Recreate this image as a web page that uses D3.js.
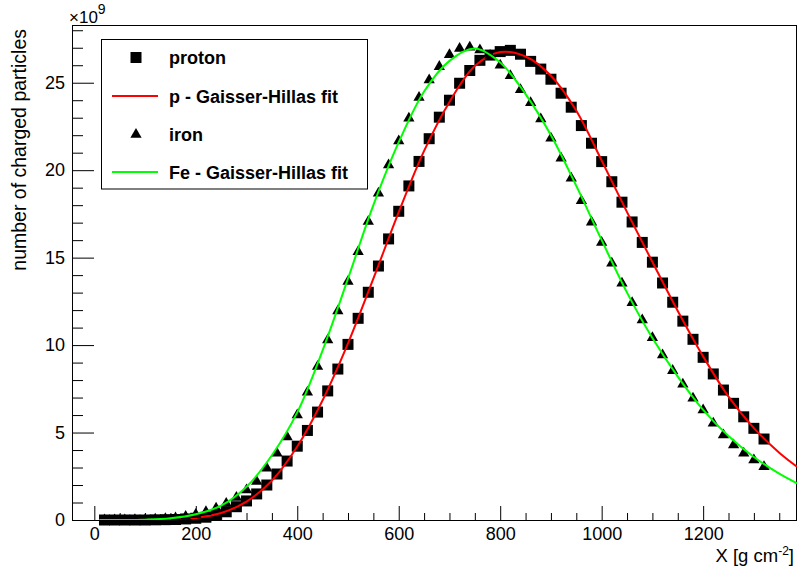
<!DOCTYPE html>
<html>
<head>
<meta charset="utf-8">
<script src="https://d3js.org/d3.v7.min.js"></script>
<style>
  body { margin: 0; background: #fff; }
  svg { display: block; font-family: "Liberation Sans", Arial, Helvetica, sans-serif; }
</style>
</head>
<body>
<div id="chart"></div>
<script>
// slant depth of the sampled points [g cm^-2]
const depth = [20, 40, 60, 80, 100, 120, 140, 160, 180, 200,
  220, 240, 260, 280, 300, 320, 340, 360, 380, 400,
  420, 440, 460, 480, 500, 520, 540, 560, 580, 600,
  620, 640, 660, 680, 700, 720, 740, 760, 780, 800,
  820, 840, 860, 880, 900, 920, 940, 960, 980, 1000,
  1020, 1040, 1060, 1080, 1100, 1120, 1140, 1160, 1180, 1200,
  1220, 1240, 1260, 1280, 1300, 1320];

// number of charged particles, in units of 1e9
const protonN = [0, 0, 0, 0, 0, 0.01, 0.02, 0.03, 0.06, 0.1,
  0.16, 0.29, 0.47, 0.76, 1.09, 1.49, 2.0, 2.63, 3.37, 4.22,
  5.12, 6.17, 7.38, 8.63, 10.04, 11.53, 13.02, 14.52, 16.07, 17.65,
  19.1, 20.5, 21.8, 23.03, 24.0, 24.97, 25.7, 26.28, 26.58, 26.78,
  26.85, 26.63, 26.22, 25.78, 25.2, 24.4, 23.6, 22.55, 21.54, 20.49,
  19.34, 18.17, 17.04, 15.87, 14.74, 13.55, 12.45, 11.37, 10.33, 9.3,
  8.35, 7.43, 6.67, 5.9, 5.24, 4.63];

const ironN = [0, 0, 0, 0.01, 0.02, 0.04, 0.07, 0.12, 0.2, 0.32,
  0.47, 0.67, 0.95, 1.28, 1.72, 2.2, 2.96, 3.81, 4.75, 6.0,
  7.3, 8.77, 10.29, 11.95, 13.63, 15.34, 17.06, 18.68, 20.3, 21.67,
  22.97, 24.15, 25.16, 25.92, 26.6, 26.95, 27.03, 26.87, 26.55, 26.0,
  25.4, 24.6, 23.85, 22.92, 21.82, 20.68, 19.54, 18.25, 17.03, 15.86,
  14.68, 13.53, 12.42, 11.43, 10.42, 9.43, 8.54, 7.76, 6.96, 6.29,
  5.53, 4.86, 4.29, 3.81, 3.43, 3.05];

// Gaisser-Hillas fit curves
const fitDepth = [10, 50, 100, 150, 200, 250, 300, 350, 400, 450,
  500, 550, 600, 650, 700, 750, 800, 850, 900, 950,
  1000, 1050, 1100, 1150, 1200, 1250, 1300, 1350, 1385];
const fitProton = [0, 0, 0.01, 0.03, 0.12, 0.4, 1.05, 2.25, 4.2, 6.85,
  10.1, 13.8, 17.6, 21.1, 23.9, 25.95, 26.75, 26.5, 25.4, 23.4,
  20.55, 17.6, 14.75, 11.95, 9.35, 7.05, 5.25, 3.85, 3.05];
const fitIron = [0, 0, 0.02, 0.1, 0.33, 0.82, 1.9, 3.7, 6.15, 9.7,
  13.8, 18.0, 21.6, 24.5, 26.25, 26.95, 26.15, 24.35, 22.0, 19.1,
  16.0, 13.0, 10.4, 8.2, 6.3, 4.8, 3.6, 2.65, 2.1];

const xMajor = [0, 200, 400, 600, 800, 1000, 1200];
const xMinor = [50, 100, 150, 250, 300, 350, 450, 500, 550, 650, 700, 750,
  850, 900, 950, 1050, 1100, 1150, 1250, 1300, 1350];
const yMajor = [0, 5, 10, 15, 20, 25];
const yMinor = [1, 2, 3, 4, 6, 7, 8, 9, 11, 12, 13, 14, 16, 17, 18, 19,
  21, 22, 23, 24, 26, 27, 28];

const legendItems = [
  { label: 'proton', kind: 'square' },
  { label: 'p - Gaisser-Hillas fit', kind: 'line', color: '#ff0000' },
  { label: 'iron', kind: 'triangle' },
  { label: 'Fe - Gaisser-Hillas fit', kind: 'line', color: '#00ff00' },
];

const W = 798, H = 570;
const frame = { left: 72, right: 797, top: 25, bottom: 520 };

const svg = d3.select('#chart').append('svg').attr('width', W).attr('height', H);

const x = d3.scaleLinear().domain([-44, 1385]).range([frame.left, frame.right]);
const y = d3.scaleLinear().domain([0, 28.3]).range([frame.bottom, frame.top]);

svg.append('defs').append('clipPath').attr('id', 'clip')
  .append('rect')
  .attr('x', frame.left).attr('y', frame.top)
  .attr('width', frame.right - frame.left).attr('height', frame.bottom - frame.top);

// axes (ticks point into the frame)
const styleAxis = (g, size) => {
  g.select('.domain').remove();
  g.selectAll('line').attr('stroke', '#000').attr('stroke-width', 1);
  g.selectAll('text').attr('fill', '#000').style('font-size', size + 'px');
};

svg.append('g')
  .attr('transform', `translate(0,${frame.bottom})`)
  .call(d3.axisBottom(x).tickValues(xMinor).tickSize(-7).tickFormat(''))
  .call((g) => styleAxis(g, 18));
svg.append('g')
  .attr('transform', `translate(0,${frame.bottom})`)
  .call(d3.axisBottom(x).tickValues(xMajor).tickSize(-14).tickPadding(7).tickFormat(d3.format('d')))
  .call((g) => styleAxis(g, 18));

svg.append('g')
  .attr('transform', `translate(${frame.left},0)`)
  .call(d3.axisLeft(y).tickValues(yMinor).tickSize(-11).tickFormat(''))
  .call((g) => styleAxis(g, 18));
svg.append('g')
  .attr('transform', `translate(${frame.left},0)`)
  .call(d3.axisLeft(y).tickValues(yMajor).tickSize(-22).tickPadding(7).tickFormat(d3.format('d')))
  .call((g) => styleAxis(g, 18));

// frame
svg.append('rect')
  .attr('x', frame.left + 0.5).attr('y', frame.top + 0.5)
  .attr('width', frame.right - frame.left - 1).attr('height', frame.bottom - frame.top)
  .attr('fill', 'none').attr('stroke', '#000').attr('stroke-width', 1);

const plot = svg.append('g');
const square = d3.symbol(d3.symbolSquare, 121);
const triangle = d3.symbol(d3.symbolTriangle, 55);

const line = (ys) => d3.line()
  .x((d, i) => x(fitDepth[i]))
  .y((d) => y(d))
  .curve(d3.curveCatmullRom.alpha(0.5))(ys);

plot.selectAll('path.proton').data(protonN).enter().append('path')
  .attr('class', 'proton')
  .attr('transform', (d, i) => `translate(${x(depth[i])},${y(d)})`)
  .attr('d', square).attr('fill', '#000');

plot.append('path').attr('d', line(fitProton))
  .attr('fill', 'none').attr('stroke', '#ff0000').attr('stroke-width', 2)
  .attr('clip-path', 'url(#clip)');

plot.selectAll('path.iron').data(ironN).enter().append('path')
  .attr('class', 'iron')
  .attr('transform', (d, i) => `translate(${x(depth[i])},${y(d)})`)
  .attr('d', triangle).attr('fill', '#000');

plot.append('path').attr('d', line(fitIron))
  .attr('fill', 'none').attr('stroke', '#00ff00').attr('stroke-width', 2)
  .attr('clip-path', 'url(#clip)');

// axis titles
svg.append('text')
  .attr('transform', 'translate(26,29) rotate(-90)')
  .attr('text-anchor', 'end')
  .style('font-size', '19.5px')
  .text('number of charged particles');

const xt = svg.append('text')
  .attr('x', 794).attr('y', 562)
  .attr('text-anchor', 'end')
  .style('font-size', '18.5px');
xt.append('tspan').text('X [g cm');
xt.append('tspan').attr('dy', -7).style('font-size', '12px').text('-2');
xt.append('tspan').attr('dy', 7).text(']');

const mult = svg.append('text').attr('x', 69).attr('y', 23).style('font-size', '17px');
mult.append('tspan').text('\u00d710');
mult.append('tspan').attr('dy', -9).style('font-size', '14px').text('9');

// legend
const lg = svg.append('g');
lg.append('rect')
  .attr('x', 101.5).attr('y', 39.5).attr('width', 266).attr('height', 149.5)
  .attr('fill', '#fff').attr('stroke', '#000').attr('stroke-width', 1);

const rowY = [57.5, 96, 134.5, 172];
legendItems.forEach((item, i) => {
  const cy = rowY[i];
  if (item.kind === 'square') {
    lg.append('path').attr('transform', `translate(136,${cy})`).attr('d', square).attr('fill', '#000');
  } else if (item.kind === 'triangle') {
    lg.append('path').attr('transform', `translate(136,${cy})`).attr('d', triangle).attr('fill', '#000');
  } else {
    lg.append('line').attr('x1', 112).attr('x2', 158).attr('y1', cy).attr('y2', cy)
      .attr('stroke', item.color).attr('stroke-width', 2);
  }
  lg.append('text')
    .attr('x', 169).attr('y', cy + 6.5)
    .style('font-size', '18px').style('font-weight', 'bold')
    .text(item.label);
});
</script>
</body>
</html>
